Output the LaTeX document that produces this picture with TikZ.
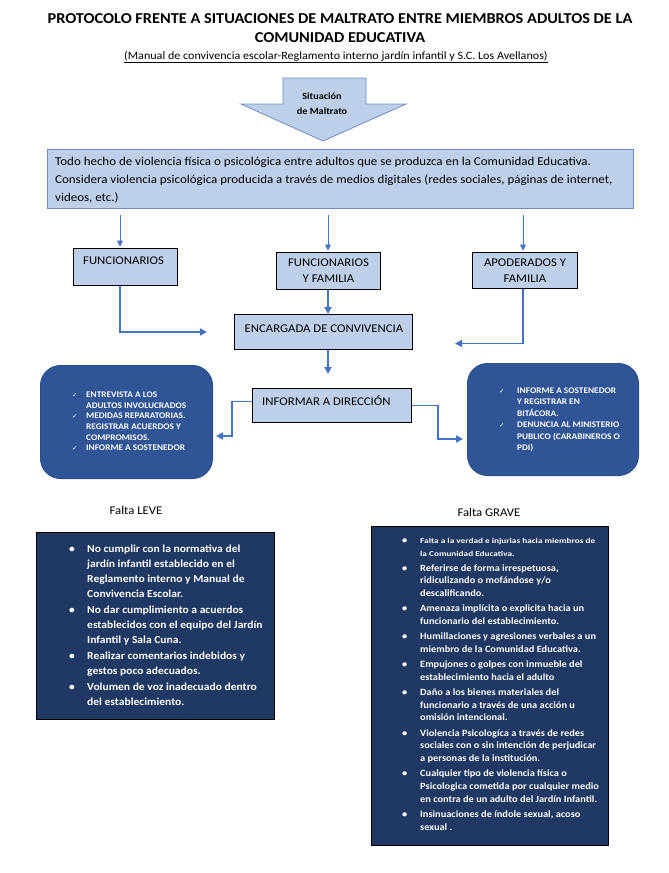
\documentclass[tikz,border=0pt]{standalone}
\usepackage{fontspec}
\setmainfont{Carlito}[FakeStretch=1.08]
\newfontfamily\symfont{DejaVu Sans}
\newfontfamily\widefont{Carlito}[FakeStretch=1.25]
\usetikzlibrary{arrows.meta}
\definecolor{lblue}{RGB}{190,207,234}
\definecolor{descline}{RGB}{110,140,195}
\definecolor{arrblue}{RGB}{68,114,196}
\definecolor{midblue}{RGB}{47,85,151}
\definecolor{midline}{RGB}{44,80,142}
\definecolor{navy}{RGB}{31,56,100}
\newcommand{\fs}[2]{\fontsize{#1}{#2}\selectfont}
\newcommand{\ck}{{\symfont\fontsize{6.5}{6.5}\selectfont ✓}}
\begin{document}
\begin{tikzpicture}[x=1pt,y=-1pt,
  lightbox/.style={draw=black, line width=1pt, fill=lblue, inner sep=0pt, text=black},
  txt/.style={inner sep=0pt, text=black},
  wtxt/.style={inner sep=0pt, text=white},
  thinarr/.style={draw=arrblue, line width=0.9pt, -{Triangle[length=6pt,width=6pt]}},
  conn/.style={draw=arrblue, line width=1.8pt, -{Triangle[length=7pt,width=7pt]}},
  roundbox/.style={draw=midline, line width=1pt, fill=midblue, rounded corners=20pt, inner sep=0pt},
  navybox/.style={draw=black, line width=1.3pt, fill=navy, inner sep=0pt}]
\useasboundingbox (0,0) rectangle (669,873);
\fill[white] (0,0) rectangle (669,873);

% title
\node[txt, font=\bfseries\fs{15.1}{19}, align=center] (title) at (340,28.5)
  {PROTOCOLO FRENTE A SITUACIONES DE MALTRATO ENTRE MIEMBROS ADULTOS DE LA\\COMUNIDAD EDUCATIVA};
\node[txt, font=\fs{11.2}{12}] (sub) at (336,57)
  {\underline{(Manual de convivencia escolar-Reglamento interno jardín infantil y S.C. Los Avellanos)}};

% block arrow
\draw[fill=lblue, draw=descline, line width=0.8pt]
  (283,78) -- (366,78) -- (366,104) -- (406,104) -- (323,141) -- (241,104) -- (283,104) -- cycle;
\node[txt, font=\bfseries\fs{9.5}{15}, align=center] (sit) at (322,104) {Situación\\de Maltrato};

% description box
\node[draw=descline, line width=1pt, fill=lblue, inner sep=0pt, minimum width=586pt, minimum height=59pt, anchor=north west] (desc) at (47,149) {};
\node[txt, font=\fs{12}{18}, align=left, anchor=west] (desctext) at ([xshift=8pt,yshift=-1pt]desc.west)
  {Todo hecho de violencia física o psicológica entre adultos que se produzca en la Comunidad Educativa.\\
   Considera violencia psicológica producida a través de medios digitales (redes sociales, páginas de internet,\\
   videos, etc.)};

% three boxes
\node[lightbox, minimum width=104pt, minimum height=37pt, anchor=north west] (fun) at (73,248) {};
\node[txt, font=\fs{11.8}{17}, anchor=west] (funtext) at (83,261) {FUNCIONARIOS};
\node[lightbox, minimum width=104pt, minimum height=37pt, anchor=north west, font=\fs{11.8}{16}, align=center] (fyf) at (276,252) {FUNCIONARIOS\\Y FAMILIA};
\node[lightbox, minimum width=105pt, minimum height=36pt, anchor=north west, font=\fs{11.8}{16}, align=center] (ap) at (472,252) {APODERADOS Y\\FAMILIA};

\node[lightbox, minimum width=178pt, minimum height=35pt, anchor=north west] (enc) at (234,314) {};
\node[txt, font=\fs{11.8}{17}] (enctext) at (324,328.5) {ENCARGADA DE CONVIVENCIA};
\node[lightbox, minimum width=159pt, minimum height=34pt, anchor=north west] (inf) at (252,388) {};
\node[txt, font=\fs{11.8}{17}, anchor=west] (inftext) at (262,401) {INFORMAR A DIRECCIÓN};

\coordinate (a1) at (120,0);
\coordinate (a2) at (328,0);
\coordinate (a3) at (523,0);
\draw[thinarr, shorten <=6pt, shorten >=1.5pt] (desc.south -| a1) -- (fun.north -| a1);
\draw[thinarr, shorten <=6pt, shorten >=1.5pt] (desc.south -| a2) -- (fyf.north -| a2);
\draw[thinarr, shorten <=6pt, shorten >=1.5pt] (desc.south -| a3) -- (ap.north -| a3);

\draw[conn, shorten >=27pt] (fun.south -| a1) |- (enc.west);
\draw[conn] (fyf.south -| a2) -- (enc.north -| a2);
\draw[conn, shorten >=42pt] (ap.south -| a3) |- ([yshift=-11.5pt]enc.east);
\draw[conn, shorten >=14pt] (enc.south -| a2) -- (inf.north -| a2);

% rounded boxes
\node[roundbox, minimum width=172pt, minimum height=113pt, anchor=north west] (lbox) at (40,365) {};
\node[wtxt, anchor=west, font=\bfseries\fs{8.6}{10.7}] (lboxtext) at ([xshift=32pt]lbox.west)
  {\begin{tabular}{@{}p{14pt}@{}l@{}}
   \ck & ENTREVISTA A LOS\\
       & ADULTOS INVOLUCRADOS\\
   \ck & MEDIDAS REPARATORIAS.\\
       & REGISTRAR ACUERDOS Y\\
       & COMPROMISOS.\\
   \ck & INFORME A SOSTENEDOR
   \end{tabular}};
\node[roundbox, minimum width=171pt, minimum height=112pt, anchor=north west] (rbox) at (467,363) {};
\node[wtxt, anchor=west, font=\bfseries\fs{8.6}{11.5}] (rboxtext) at ([xshift=32pt]rbox.west)
  {\begin{tabular}{@{}p{18pt}@{}l@{}}
   \ck & INFORME A SOSTENEDOR\\
       & Y REGISTRAR EN\\
       & BITÁCORA.\\
   \ck & DENUNCIA AL MINISTERIO\\
       & PUBLICO (CARABINEROS O\\
       & PDI)
   \end{tabular}};

\coordinate (lk) at (232,436);
\coordinate (rk) at (438,439);
\draw[conn, shorten >=3pt] ([yshift=4pt]inf.west) -| (lk) -- (lbox.east |- lk);
\draw[conn, shorten >=4pt] (inf.east) -| (rk) -- (rbox.west |- rk);

% labels
\node[txt, font=\fs{11.8}{13}] (levelab) at (136,510) {Falta LEVE};
\node[txt, font=\fs{11.8}{13}] (gravelab) at (489,512) {Falta GRAVE};

% navy boxes
\node[navybox, minimum width=238pt, minimum height=187pt, anchor=north west] (leve) at (36,532) {};
\node[wtxt, anchor=west, font=\bfseries\fs{10.7}{14.8}] (levetext) at ([xshift=33pt]leve.west)
  {\begin{tabular}{@{}p{18pt}@{}l@{}}
   \textbullet & No cumplir con la normativa del\\
    & jardín infantil establecido en el\\
    & Reglamento interno y Manual de\\
    & Convivencia Escolar.\\[1.5pt]
   \textbullet & No dar cumplimiento a acuerdos\\
    & establecidos con el equipo del Jardín\\
    & Infantil y Sala Cuna.\\[1.5pt]
   \textbullet & Realizar comentarios indebidos y\\
    & gestos poco adecuados.\\[1.5pt]
   \textbullet & Volumen de voz inadecuado dentro\\
    & del establecimiento.
   \end{tabular}};

\node[navybox, minimum width=237pt, minimum height=319pt, anchor=north west] (grave) at (371,526) {};
\node[wtxt, anchor=west, font=\bfseries\fs{9.6}{12.7}] (gravetext) at ([xshift=31pt,yshift=2pt]grave.west)
  {\begin{tabular}{@{}p{18pt}@{}l@{}}
   \textbullet & {\widefont\bfseries\fs{7.4}{12.7}Falta a la verdad e injurias hacia miembros de}\\
    & {\widefont\bfseries\fs{7.4}{12.7}la Comunidad Educativa.}\\[2.5pt]
   \textbullet & Referirse de forma irrespetuosa,\\
    & ridiculizando o mofándose y/o\\
    & descalificando.\\[2.5pt]
   \textbullet & Amenaza implícita o explicita hacia un\\
    & funcionario del establecimiento.\\[2.5pt]
   \textbullet & Humillaciones y agresiones verbales a un\\
    & miembro de la Comunidad Educativa.\\[2.5pt]
   \textbullet & Empujones o golpes con inmueble del\\
    & establecimiento hacia el adulto\\[2.5pt]
   \textbullet & Daño a los bienes materiales del\\
    & funcionario a través de una acción u\\
    & omisión intencional.\\[2.5pt]
   \textbullet & Violencia Psicologíca a través de redes\\
    & sociales con o sin intención de perjudicar\\
    & a personas de la institución.\\[2.5pt]
   \textbullet & Cualquier tipo de violencia física o\\
    & Psicologica cometida por cualquier medio\\
    & en contra de un adulto del Jardín Infantil.\\[2.5pt]
   \textbullet & Insinuaciones de índole sexual, acoso\\
    & sexual .
   \end{tabular}};
\end{tikzpicture}
\end{document}
